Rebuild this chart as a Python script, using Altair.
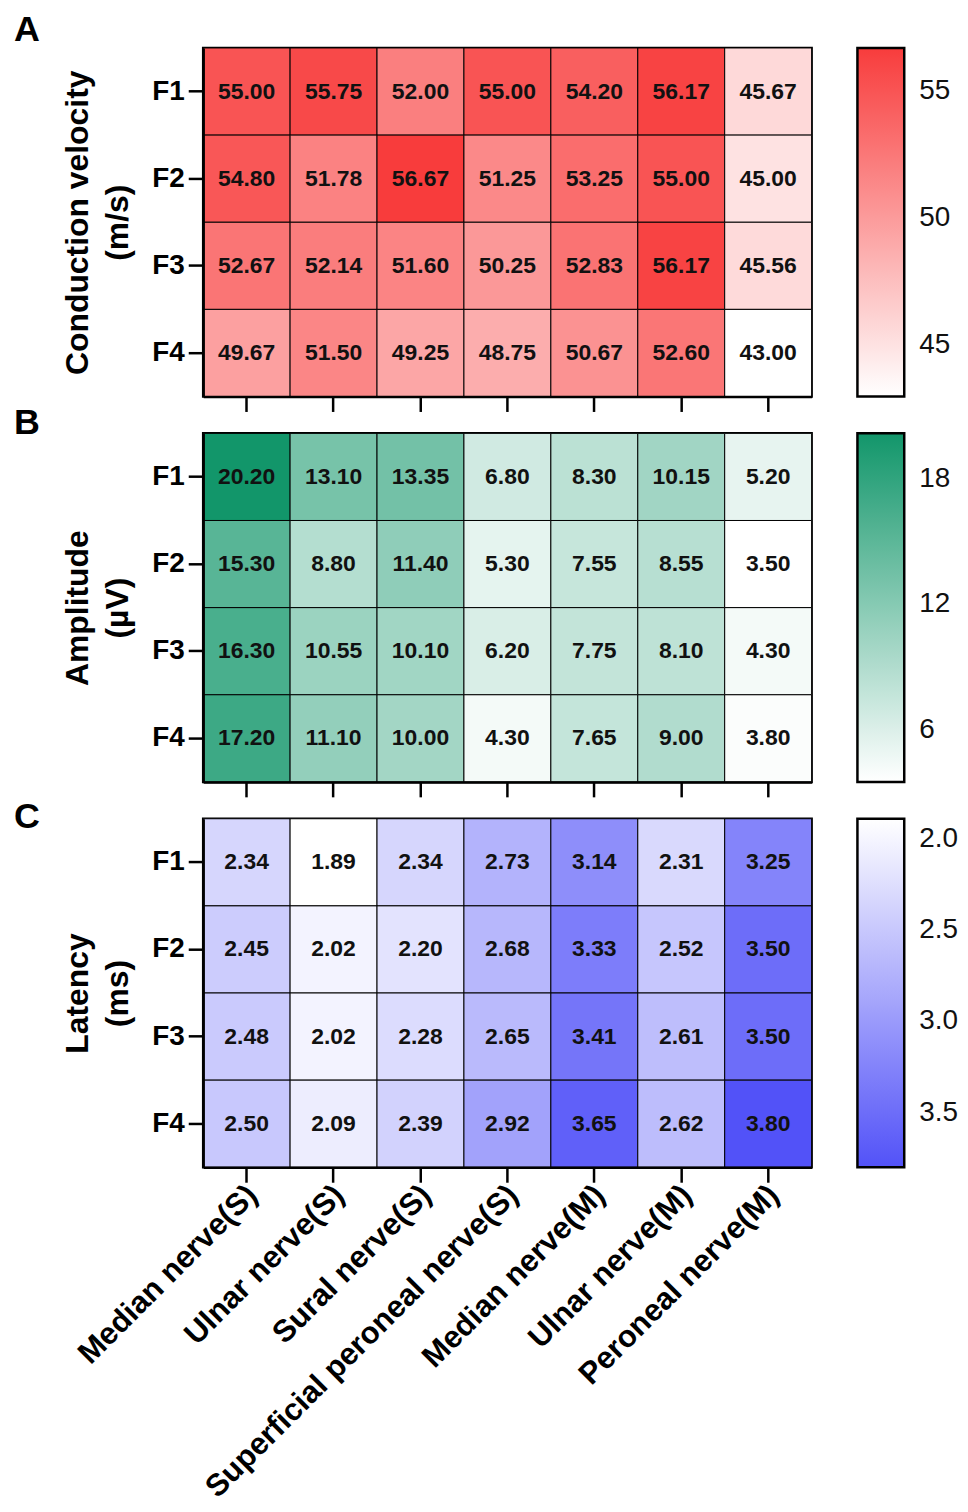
import altair as alt
import pandas as pd

nerves = ["Median nerve(S)", "Ulnar nerve(S)", "Sural nerve(S)",
          "Superficial peroneal nerve(S)", "Median nerve(M)", "Ulnar nerve(M)",
          "Peroneal nerve(M)"]
fibers = ["F1", "F2", "F3", "F4"]

velocity = [
    [55.00, 55.75, 52.00, 55.00, 54.20, 56.17, 45.67],
    [54.80, 51.78, 56.67, 51.25, 53.25, 55.00, 45.00],
    [52.67, 52.14, 51.60, 50.25, 52.83, 56.17, 45.56],
    [49.67, 51.50, 49.25, 48.75, 50.67, 52.60, 43.00],
]
amplitude = [
    [20.20, 13.10, 13.35, 6.80, 8.30, 10.15, 5.20],
    [15.30, 8.80, 11.40, 5.30, 7.55, 8.55, 3.50],
    [16.30, 10.55, 10.10, 6.20, 7.75, 8.10, 4.30],
    [17.20, 11.10, 10.00, 4.30, 7.65, 9.00, 3.80],
]
latency = [
    [2.34, 1.89, 2.34, 2.73, 3.14, 2.31, 3.25],
    [2.45, 2.02, 2.20, 2.68, 3.33, 2.52, 3.50],
    [2.48, 2.02, 2.28, 2.65, 3.41, 2.61, 3.50],
    [2.50, 2.09, 2.39, 2.92, 3.65, 2.62, 3.80],
]

FONT = "Arial, Liberation Sans, Helvetica, sans-serif"
W, H = 611, 350


def table(matrix):
    rows = []
    for i, f in enumerate(fibers):
        for j, n in enumerate(nerves):
            rows.append({"fiber": f, "nerve": n, "value": matrix[i][j]})
    return pd.DataFrame(rows)


def panel(matrix, letter, letter_y, title_lines, domain, color_range, ticks,
          show_labels):
    df = table(matrix)
    x_axis = alt.Axis(
        title=None, labels=show_labels, labelAngle=-45, labelAlign="right",
        labelBaseline="middle", labelFontSize=31, labelFontWeight="bold",
        labelFont=FONT, labelColor="#000", labelPadding=8, labelLimit=0,
        labelOffset=6,
        tickSize=15, tickWidth=2.5, tickColor="#000",
        domainColor="#000", domainWidth=2.5,
    )
    y_axis = alt.Axis(
        title=title_lines, titleFontSize=32, titleFontWeight="bold",
        titleFont=FONT, titleColor="#000", titlePadding=17,
        titleLineHeight=40,
        labelFontSize=28, labelFontWeight="bold", labelFont=FONT,
        labelColor="#000", labelPadding=4,
        tickSize=15, tickWidth=2.5, tickColor="#000",
        domainColor="#000", domainWidth=2.5,
    )
    scale = alt.Scale(domain=domain, range=color_range, interpolate="rgb",
                      zero=False, nice=False)
    legend = alt.Legend(
        title=None, orient="right", offset=46, gradientLength=H,
        gradientThickness=47, gradientStrokeColor="#000",
        gradientStrokeWidth=2.5, labelFontSize=28, labelFont=FONT,
        labelColor="#111", labelOffset=15, values=ticks, labelOverlap=False,
    )
    base = alt.Chart(df).encode(
        x=alt.X("nerve:N", sort=nerves, axis=x_axis,
                scale=alt.Scale(paddingInner=0, paddingOuter=0)),
        y=alt.Y("fiber:N", sort=fibers, axis=y_axis,
                scale=alt.Scale(paddingInner=0, paddingOuter=0)),
    )
    rect = base.mark_rect(stroke="#000", strokeWidth=1).encode(
        color=alt.Color("value:Q", scale=scale, legend=legend)
    )
    text = base.mark_text(font=FONT, fontSize=23, fontWeight="bold",
                          color="#111").encode(
        text=alt.Text("value:Q", format=".2f")
    )
    lab = alt.Chart(pd.DataFrame({"t": [letter]})).mark_text(
        font=FONT, fontSize=36, fontWeight="bold", color="#000",
        align="left", baseline="middle"
    ).encode(text="t:N", x=alt.value(-190), y=alt.value(letter_y))
    return alt.layer(rect, text, lab).properties(width=W, height=H)


a = panel(velocity, "A", -18, ["Conduction velocity", "(m/s)"], [43.0, 56.67],
          ["#ffffff", "#f83c3c"], [45, 50, 55], False)
b = panel(amplitude, "B", -10, ["Amplitude", "(µV)"], [3.5, 20.2],
          ["#ffffff", "#12966a"], [6, 12, 18], False)
c = panel(latency, "C", -2, ["Latency", "(ms)"], [3.80, 1.89],
          ["#5252f8", "#ffffff"], [2.0, 2.5, 3.0, 3.5], True)

chart = alt.vconcat(a, b, c, spacing=37, bounds="flush").resolve_scale(
    color="independent"
).configure_view(stroke="#000", strokeWidth=2.5).properties(
    padding={"left": 4, "top": -1, "right": 0, "bottom": 0}
)

chart.save("out.html", embed_options={"renderer": "svg", "actions": False})
